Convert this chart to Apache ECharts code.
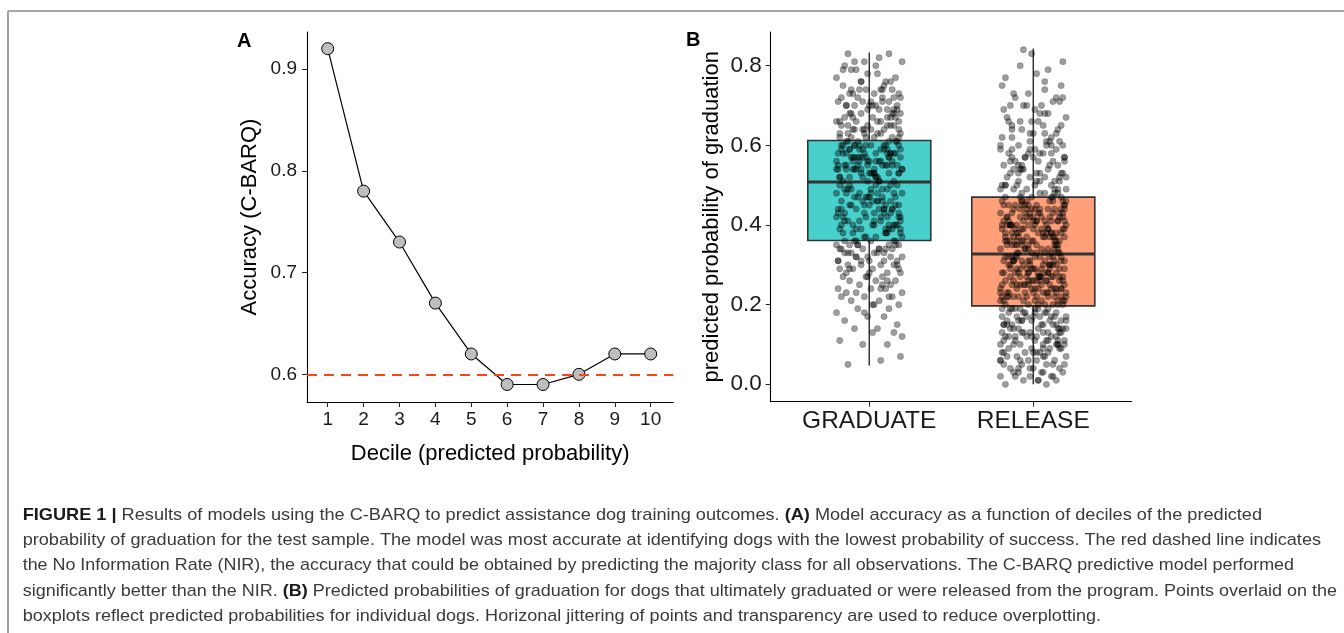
<!DOCTYPE html>
<html><head><meta charset="utf-8">
<script src="https://cdn.jsdelivr.net/npm/echarts@6/dist/echarts.min.js"></script>
<style>html,body{margin:0;padding:0;background:#fff}#c{width:1344px;height:633px}</style>
</head><body><div id="c"></div>
<script>
// ---------------- DATA ----------------
const deciles = [1, 2, 3, 4, 5, 6, 7, 8, 9, 10];
const accuracy = [0.92, 0.78, 0.73, 0.67, 0.62, 0.59, 0.59, 0.60, 0.62, 0.62];
const nirRate = 0.6;
const accTicks = [0.6, 0.7, 0.8, 0.9];

const boxCats = ['GRADUATE', 'RELEASE'];
const boxMin = [0.047, 0.0];
const boxQ1 = [0.361, 0.197];
const boxMedian = [0.508, 0.327];
const boxQ3 = [0.612, 0.470];
const boxMax = [0.833, 0.843];
const probTicks = [0.0, 0.2, 0.4, 0.6, 0.8];

// predicted probabilities of individual dogs
const gradY = [
0.05,0.06,0.07,0.10,0.10,0.11,0.13,0.13,0.14,0.14,0.15,0.16,0.17,0.17,0.18,0.19,0.19,0.20,0.20,0.21,
0.21,0.22,0.22,0.22,0.23,0.23,0.24,0.24,0.24,0.25,0.25,0.26,0.26,0.26,0.27,0.27,0.27,0.28,0.28,0.28,
0.29,0.29,0.29,0.29,0.30,0.30,0.30,0.30,0.31,0.31,0.31,0.31,0.32,0.32,0.32,0.32,0.33,0.33,0.33,0.33,
0.34,0.34,0.34,0.34,0.34,0.35,0.35,0.35,0.35,0.35,0.36,0.36,0.36,0.25,0.23,
0.37,0.37,0.38,0.38,0.38,0.39,0.39,0.39,0.40,0.40,0.40,0.40,0.41,0.41,0.41,0.42,0.42,0.42,0.43,0.43,
0.43,0.43,0.44,0.44,0.44,0.45,0.45,0.45,0.45,0.46,0.46,0.46,0.47,0.47,0.47,0.47,0.48,0.48,0.48,0.49,
0.49,0.49,0.50,0.50,0.50,0.51,0.51,0.40,0.42,0.44,0.46,0.48,0.38,0.41,0.43,0.45,0.47,0.49,0.39,0.37,
0.42,0.44,0.46,0.50,0.41,0.43,0.39,0.45,0.48,0.40,0.36,0.47,0.44,0.38,0.49,
0.51,0.52,0.52,0.52,0.53,0.53,0.53,0.53,0.54,0.54,0.54,0.54,0.55,0.55,0.55,0.55,0.56,0.56,0.56,0.56,
0.57,0.57,0.57,0.57,0.58,0.58,0.58,0.58,0.59,0.59,0.59,0.59,0.60,0.60,0.60,0.60,0.61,0.61,0.61,0.52,
0.53,0.54,0.55,0.56,0.57,0.58,0.59,0.60,0.52,0.54,0.56,0.58,0.60,0.53,0.55,0.57,0.59,0.61,0.51,0.56,
0.58,0.54,0.60,0.55,0.57,0.53,0.59,0.52,0.61,0.56,0.58,0.54,0.57,0.55,0.60,
0.62,0.62,0.62,0.63,0.63,0.63,0.63,0.64,0.64,0.64,0.64,0.65,0.65,0.65,0.65,0.66,0.66,0.66,0.67,0.67,
0.67,0.67,0.68,0.68,0.68,0.69,0.69,0.69,0.70,0.70,0.70,0.70,0.71,0.71,0.71,0.72,0.72,0.72,0.73,0.73,
0.73,0.74,0.74,0.74,0.74,0.75,0.75,0.76,0.76,0.76,0.77,0.77,0.78,0.78,0.79,0.79,0.80,0.80,0.81,0.81,
0.82,0.83,0.83,0.62,0.64,0.66,0.68,0.70,0.72,0.63,0.65,0.67,0.69,0.71,0.74,
0.56,0.42,0.61,0.39,0.53,0.47,0.58,0.44,0.50,0.36,0.60,0.41,0.55,0.48,0.38,0.57,0.45,0.52,0.40,0.59,
0.43,0.54,0.46,0.62,0.37,0.51,0.49,0.58,0.40,0.55,0.66,0.71,0.64,0.69,0.73,0.68,0.65,0.70,0.63,0.76,
0.33,0.29,0.35,0.27,0.31,0.34,0.22,0.32,0.28,0.36,0.57,0.44,0.60,0.39,0.53,0.48,0.42,0.59,0.46,0.54,
0.68,0.62,0.74,0.66,0.79,0.72,0.64,0.81,0.67,0.70,0.35,0.30,0.18,0.26,0.34,0.24,0.33,0.12,0.31,0.20
];
// horizontal jitter, in hundredths of a category width
const gradJit = [
-13,7,19,-4,11,-18,2,15,-9,5, 17,-15,-1,9,-20,12,-7,3,18,-11, 6,-17,14,-3,20,-8,10,-19,1,13,
-6,16,-12,4,-16,8,-2,19,-14,11, 2,-10,18,-18,7,-5,15,-13,0,17, -19,9,-8,13,-1,20,-15,5,-11,3,
14,-4,10,-17,6,-12,18,-7,12,-20, 1,16,-9,8,-14,4,-3,19,-16,10, -5,12,-18,15,-10,2,17,-6,7,-13,
19,-2,11,-15,3,-19,9,14,-8,6, -12,18,-3,0,13,-17,5,-9,16,-1, 8,-14,20,-6,11,-11,1,17,-18,4,
-16,6,12,-20,9,-4,15,-10,3,18, 10,-7,-13,14,-2,7,-19,2,13,-15, -3,19,-11,5,16,-8,0,-17,11,8,
15,-18,4,-12,1,12,-5,18,-9,-14, -8,3,17,-1,-15,10,6,-20,14,0, 12,-10,-6,19,4,-16,13,-3,9,-12,
-17,11,1,-9,18,-2,-13,16,-7,5, 3,-19,14,7,-11,15,-4,10,-18,20, -1,13,-16,2,8,-7,19,-14,6,-10,
16,-5,9,-19,12,0,-12,4,17,-6, -14,20,-2,11,-9,14,3,-18,7,-3, 5,-13,18,-10,-4,9,-17,13,-1,15,
-20,7,-8,16,2,-15,11,-5,19,-11, 11,-1,6,-14,17,-9,4,12,-19,1, -7,15,-17,3,-12,18,-6,8,-2,14,
9,-16,13,-5,10,-20,16,-1,5,-8, -11,4,-15,20,-3,6,12,-13,18,-9, 18,-12,0,8,-18,11,-10,15,-4,7,
4,-16,12,-8,18,-2,-19,9,-12,15, -6,19,-14,1,10,-9,16,-4,-17,7, 13,-20,5,-11,20,-1,-15,11,3,-7,
-18,8,-3,17,-10,14,-13,2,19,-5, 9,-12,16,-1,-19,6,12,-8,0,-15, -4,14,-17,10,3,-20,18,-6,8,-10,
15,-2,-11,5,-16,19,1,-9,13,-14, -7,17,-3,11,-18,7,-13,20,-5,2
];
const relY = [
0.00,0.00,0.01,0.01,0.01,0.02,0.02,0.02,0.03,0.03,0.03,0.03,0.04,0.04,0.04,0.05,0.05,0.05,0.05,0.06,
0.06,0.06,0.07,0.07,0.07,0.07,0.08,0.08,0.08,0.08,0.09,0.09,0.09,0.09,0.10,0.10,0.10,0.10,0.10,0.11,
0.11,0.11,0.11,0.12,0.12,0.12,0.12,0.12,0.13,0.13,0.13,0.13,0.13,0.14,0.14,0.14,0.14,0.14,0.15,0.15,
0.15,0.15,0.15,0.16,0.16,0.16,0.16,0.16,0.17,0.17,0.17,0.17,0.17,0.18,0.18,0.18,0.18,0.18,0.19,0.19,
0.19,0.19,0.19,0.20,0.20,0.20,0.06,0.09,0.11,0.13,0.15,0.17,0.08,0.12,0.14,0.16,0.18,0.04,0.10,0.19,
0.20,0.21,0.21,0.21,0.21,0.22,0.22,0.22,0.22,0.22,0.23,0.23,0.23,0.23,0.23,0.24,0.24,0.24,0.24,0.24,
0.25,0.25,0.25,0.25,0.25,0.26,0.26,0.26,0.26,0.26,0.27,0.27,0.27,0.27,0.27,0.28,0.28,0.28,0.28,0.28,
0.29,0.29,0.29,0.29,0.29,0.30,0.30,0.30,0.30,0.30,0.31,0.31,0.31,0.31,0.31,0.32,0.32,0.32,0.32,0.32,
0.33,0.33,0.33,0.21,0.22,0.23,0.24,0.25,0.26,0.27,0.28,0.29,0.30,0.31,0.32,0.20,0.22,0.24,0.26,0.28,
0.30,0.32,0.21,0.23,0.25,0.27,0.29,0.31,0.33,0.22,0.25,0.28,0.31,0.24,0.27,0.30,0.23,0.26,0.29,0.32,
0.33,0.34,0.34,0.34,0.34,0.35,0.35,0.35,0.35,0.35,0.36,0.36,0.36,0.36,0.36,0.37,0.37,0.37,0.37,0.37,
0.38,0.38,0.38,0.38,0.38,0.39,0.39,0.39,0.39,0.39,0.40,0.40,0.40,0.40,0.40,0.41,0.41,0.41,0.41,0.41,
0.42,0.42,0.42,0.42,0.42,0.43,0.43,0.43,0.43,0.43,0.44,0.44,0.44,0.44,0.45,0.45,0.45,0.45,0.46,0.46,
0.46,0.46,0.47,0.47,0.47,0.34,0.35,0.36,0.37,0.38,0.39,0.40,0.41,0.42,0.43,0.44,0.45,0.46,0.34,0.36,
0.38,0.40,0.42,0.44,0.46,0.35,0.37,0.39,0.41,0.43,0.45,0.47,0.36,0.39,0.42,0.45,0.38,0.41,0.44,0.40,
0.48,0.48,0.48,0.49,0.49,0.49,0.49,0.50,0.50,0.50,0.50,0.51,0.51,0.51,0.52,0.52,0.52,0.53,0.53,0.53,
0.54,0.54,0.54,0.55,0.55,0.55,0.56,0.56,0.56,0.57,0.57,0.57,0.58,0.58,0.58,0.59,0.59,0.59,0.60,0.60,
0.60,0.61,0.61,0.62,0.62,0.62,0.63,0.63,0.64,0.64,0.65,0.65,0.65,0.66,0.66,0.67,0.67,0.68,0.68,0.69,
0.69,0.70,0.70,0.71,0.71,0.72,0.72,0.73,0.73,0.74,0.75,0.75,0.76,0.77,0.78,0.79,0.80,0.81,0.83,0.84,
0.48,0.50,0.52,0.54,0.56,0.58,0.60,0.49,0.51,0.53,0.55,0.57,0.59,0.61,0.63,0.66,0.70,0.47,0.53,0.57,
0.26,0.41,0.15,0.33,0.38,0.22,0.45,0.29,0.08,0.36,0.31,0.19,0.43,0.24,0.37,0.12,0.40,0.28,0.46,0.21,
0.35,0.03,0.27,0.44,0.17,0.32,0.39,0.25,0.10,0.42,0.30,0.23,0.47,0.14,0.34,0.20,0.38,0.05,0.26,0.41,
0.29,0.16,0.36,0.22,0.44,0.31,0.13,0.40,0.27,0.35,0.52,0.58,0.63,0.49,0.55,0.68,0.60,0.51,0.72,0.57,
0.07,0.11,0.02,0.18,0.09,0.14,0.01,0.06,0.16,0.12,0.33,0.28,0.37,0.24,0.42,0.30,0.45,0.21,0.39,0.26,
0.34,0.43,0.23,0.36,0.29,0.46,0.32,0.25,0.40,0.38,0.54,0.61,0.50,0.66,0.56,0.59,0.48,0.64,0.53,0.70,
0.15,0.04,0.19,0.08,0.13,0.10,0.17,0.02,0.11,0.06,0.31,0.27,0.44,0.35,0.22,0.41,0.37,0.28,0.33,0.20
];
const relJit = [
8,-17,3,14,-6,-20,11,-2,18,-12, -9,5,16,-14,0,19,-7,12,-18,2, 13,-3,-16,7,20,-10,4,-19,9,-5,
-15,17,-1,10,-12,6,15,-8,-20,1, 19,-11,8,-4,14,-17,2,11,-6,16, -2,9,-19,15,-9,3,-14,18,5,-13,
12,-18,6,-7,17,-1,10,-16,0,13, -10,4,20,-15,1,-5,14,7,-19,9, 3,-13,-8,18,-3,12,-20,6,15,-7,
-16,11,0,-11,16,-9,8,-2,19,-14, 7,-6,15,-18,5,13,-12,2,-4,20, -20,14,-5,9,-16,1,17,-10,11,-1,
10,-8,19,-3,-13,8,0,16,-17,4, -4,18,-14,3,12,-19,7,-9,14,-11, 16,-1,5,-10,19,-6,-15,10,-2,6,
-12,7,-18,13,-7,17,4,-13,1,-17, 2,15,-9,-20,9,0,13,-5,18,-8, -18,10,12,-2,-11,15,-16,3,8,-3,
14,-15,1,6,-19,11,-4,19,-10,17, -6,3,-12,17,4,-14,20,-1,-8,10, 11,-20,9,-5,15,-3,-11,13,2,-16,
-1,16,-7,0,-17,12,6,-12,19,-4, 17,-9,14,-13,3,18,-19,5,-6,9, -14,1,-3,20,-10,7,11,-18,15,0,
5,-16,18,-8,10,-2,-13,16,-20,12, -8,13,-1,4,-15,19,2,-7,10,-19, 20,-4,-17,11,-1,5,15,-14,7,-10,
-11,8,2,-16,18,-12,-5,12,-3,14, 6,-19,16,1,-7,14,-9,9,-15,3, -3,12,-10,19,0,-18,8,-6,17,-13,
15,-7,4,-12,13,-4,20,-17,1,11, -17,2,13,-9,7,16,-2,4,-14,18, 9,-12,-6,15,-18,10,3,-11,19,-5,
-5,19,-15,6,-3,1,-20,14,8,-9, 18,-2,10,-19,11,-13,7,0,-7,15, -13,6,17,-1,-8,20,-16,9,4,-18,
1,-14,-4,12,16,-11,14,-3,-12,7, -19,17,7,-17,2,9,-8,18,-1,-6, 13,-10,20,-7,-14,4,11,-20,16,2,
-7,0,-13,8,14,-15,5,17,-9,19,
-3,15,-18,7,11,-9,19,-14,2,-6, 17,-11,4,-20,13,-1,-16,9,-7,18, -13,6,16,-4,-19,12,0,-10,14,-2,
10,-15,-8,20,-5,3,-17,8,-12,19, 1,-7,13,-19,9,-3,17,-14,5,-10, -16,11,-2,15,-9,7,-20,4,18,-13,
6,-18,12,-6,16,-12,3,-8,20,-15, -1,9,-17,14,-4,10,-11,19,-7,2, 13,-5,8,-16,0,18,-10,5,-14,11,
-8,16,-19,3,12,-2,7,-13,17,-6, 14,-9,1,-18,6,15,-4,-11,9,-20, -12,4,19,-7,-15,2,10,-3,16,-17
];

const captionLines = [
  '{b|FIGURE 1 |} Results of models using the C-BARQ to predict assistance dog training outcomes. {b|(A)} Model accuracy as a function of deciles of the predicted',
  'probability of graduation for the test sample. The model was most accurate at identifying dogs with the lowest probability of success. The red dashed line indicates',
  'the No Information Rate (NIR), the accuracy that could be obtained by predicting the majority class for all observations. The C-BARQ predictive model performed',
  'significantly better than the NIR. {b|(B)} Predicted probabilities of graduation for dogs that ultimately graduated or were released from the program. Points overlaid on the',
  'boxplots reflect predicted probabilities for individual dogs. Horizonal jittering of points and transparency are used to reduce overplotting.'
];

// ---------------- LAYOUT / STYLE ----------------
const FONT = 'Liberation Sans';
const capSize = 17;
const capLeft = 22.7;
const capEnds = [1262, 1321, 1294, 1337, 1101];
const capTop = 515, capStep = 25.3;
const boxColors = ['#48D1CC', '#FFA07A'];
const boxHalf = 0.375;

const ctx = document.createElement('canvas').getContext('2d');
function measure(line) {
  let w = 0, last = 0, m;
  const re = /\{b\|([^}]*)\}/g;
  while ((m = re.exec(line))) {
    ctx.font = capSize + 'px "' + FONT + '"';
    w += ctx.measureText(line.slice(last, m.index)).width;
    ctx.font = 'bold ' + capSize + 'px "' + FONT + '"';
    w += ctx.measureText(m[1]).width;
    last = re.lastIndex;
  }
  ctx.font = capSize + 'px "' + FONT + '"';
  w += ctx.measureText(line.slice(last)).width;
  return w;
}

const captionGraphics = captionLines.map((line, i) => ({
  type: 'text',
  x: capLeft,
  y: capTop + i * capStep,
  scaleX: (capEnds[i] - capLeft) / measure(line),
  style: {
    text: line,
    fontFamily: FONT, fontSize: capSize, fill: '#3a3a3a',
    verticalAlign: 'middle', align: 'left',
    rich: { b: { fontFamily: FONT, fontSize: capSize, fontWeight: 'bold', fill: '#1a1a1a' } }
  }
}));

const gradData = gradY.map((y, i) => [1 + gradJit[i] / 100, y]);
const relData = relY.map((y, i) => [2 + relJit[i] / 100, y]);
const boxData = boxCats.map((c, i) => [i + 1, boxMin[i], boxQ1[i], boxMedian[i], boxQ3[i], boxMax[i]]);

const axisCommon = {
  axisLine: { show: true, onZero: false, lineStyle: { color: '#000', width: 1.1 } },
  splitLine: { show: false },
  nameTextStyle: { fontFamily: FONT, fontSize: 22, color: '#000' },
  nameLocation: 'middle'
};

const option = {
  animation: false,
  backgroundColor: '#fff',
  grid: [
    { left: 307, top: 32, width: 366.3, height: 370, containLabel: false, outerBoundsMode: 'none' },
    { left: 770.7, top: 32, width: 361, height: 369.7, containLabel: false, outerBoundsMode: 'none' }
  ],
  xAxis: [
    Object.assign({}, axisCommon, {
      gridIndex: 0, type: 'value', min: 0.423, max: 10.63,
      axisTick: { show: true, length: 5, customValues: deciles, lineStyle: { color: '#222' } },
      axisLabel: { customValues: deciles, fontFamily: FONT, fontSize: 19, color: '#1a1a1a', margin: 8 },
      name: 'Decile (predicted probability)', nameGap: 41
    }),
    Object.assign({}, axisCommon, {
      gridIndex: 1, type: 'value', min: 0.399, max: 2.6,
      axisTick: { show: true, length: 5, customValues: [1, 2], lineStyle: { color: '#222' } },
      axisLabel: { customValues: [1, 2], fontFamily: FONT, fontSize: 24.5, color: '#1a1a1a', margin: 7,
        formatter: v => boxCats[Math.round(v) - 1] }
    })
  ],
  yAxis: [
    Object.assign({}, axisCommon, {
      gridIndex: 0, type: 'value', min: 0.5728, max: 0.9364,
      axisTick: { show: true, length: 5, customValues: accTicks, lineStyle: { color: '#222' } },
      axisLabel: { customValues: accTicks, fontFamily: FONT, fontSize: 19, color: '#1a1a1a', margin: 10,
        formatter: v => v.toFixed(1) },
      name: 'Accuracy (C-BARQ)', nameGap: 46
    }),
    Object.assign({}, axisCommon, {
      gridIndex: 1, type: 'value', min: -0.0437, max: 0.8846,
      axisTick: { show: true, length: 5, customValues: probTicks, lineStyle: { color: '#222' } },
      axisLabel: { customValues: probTicks, fontFamily: FONT, fontSize: 22.5, color: '#1a1a1a', margin: 9,
        formatter: v => v.toFixed(1) },
      name: 'predicted probability of graduation', nameGap: 48
    })
  ],
  series: [
    {
      type: 'line', xAxisIndex: 0, yAxisIndex: 0, z: 3,
      data: deciles.map((d, i) => [d, accuracy[i]]),
      lineStyle: { color: '#000', width: 1.2 },
      symbol: 'circle', symbolSize: 12,
      itemStyle: { color: '#BEBEBE', borderColor: '#000', borderWidth: 1 },
      markLine: {
        silent: true, symbol: 'none', animation: false,
        label: { show: false },
        lineStyle: { color: '#F8461C', width: 2, type: [10, 7] },
        data: [{ yAxis: nirRate }]
      }
    },
    {
      type: 'custom', xAxisIndex: 1, yAxisIndex: 1, z: 2,
      data: boxData,
      encode: { x: 0, y: [1, 2, 3, 4, 5] },
      renderItem: function (params, api) {
        const x = api.value(0);
        const lo = api.value(1), q1 = api.value(2), md = api.value(3), q3 = api.value(4), hi = api.value(5);
        const tl = api.coord([x - boxHalf, q3]);
        const br = api.coord([x + boxHalf, q1]);
        const mL = api.coord([x - boxHalf, md]);
        const mR = api.coord([x + boxHalf, md]);
        const pHi = api.coord([x, hi]), pQ3 = api.coord([x, q3]);
        const pQ1 = api.coord([x, q1]), pLo = api.coord([x, lo]);
        const stroke = '#333';
        return {
          type: 'group',
          children: [
            { type: 'line', shape: { x1: pHi[0], y1: pHi[1], x2: pQ3[0], y2: pQ3[1] }, style: { stroke: stroke, lineWidth: 1.5 } },
            { type: 'line', shape: { x1: pQ1[0], y1: pQ1[1], x2: pLo[0], y2: pLo[1] }, style: { stroke: stroke, lineWidth: 1.5 } },
            { type: 'rect', shape: { x: tl[0], y: tl[1], width: br[0] - tl[0], height: br[1] - tl[1] },
              style: { fill: boxColors[params.dataIndex], stroke: stroke, lineWidth: 1.6 } },
            { type: 'line', shape: { x1: mL[0], y1: mL[1], x2: mR[0], y2: mR[1] }, style: { stroke: stroke, lineWidth: 3 } }
          ]
        };
      }
    },
    {
      type: 'scatter', xAxisIndex: 1, yAxisIndex: 1, z: 4,
      data: gradData.concat(relData),
      symbol: 'circle', symbolSize: 6.3,
      itemStyle: { color: 'rgba(0,0,0,0.48)', borderColor: 'rgba(0,0,0,0.35)', borderWidth: 0.6 }
    }
  ],
  graphic: [
    { type: 'line', shape: { x1: 8, y1: 11, x2: 1344, y2: 11 }, style: { stroke: '#8a8a8a', lineWidth: 1.6 } },
    { type: 'line', shape: { x1: 8, y1: 11, x2: 8, y2: 633 }, style: { stroke: '#8a8a8a', lineWidth: 1.6 } },
    { type: 'text', x: 237, y: 41, style: { text: 'A', fontFamily: FONT, fontSize: 20, fontWeight: 'bold', fill: '#000', verticalAlign: 'middle' } },
    { type: 'text', x: 686, y: 40, style: { text: 'B', fontFamily: FONT, fontSize: 20, fontWeight: 'bold', fill: '#000', verticalAlign: 'middle' } }
  ].concat(captionGraphics)
};

const chart = echarts.init(document.getElementById('c'), null, { renderer: 'canvas' });
chart.setOption(option);
</script>
</body></html>
